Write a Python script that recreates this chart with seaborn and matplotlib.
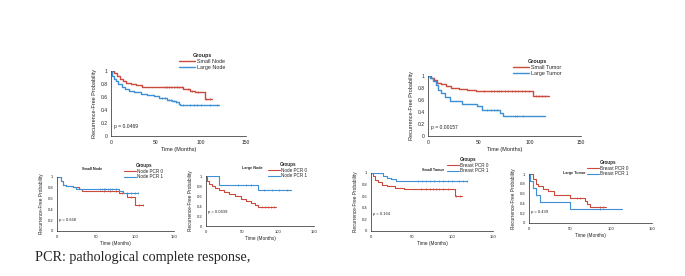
import numpy as np
import matplotlib
matplotlib.use("Agg")
import matplotlib.pyplot as plt
from matplotlib.lines import Line2D
import seaborn as sns

# --- figure geometry (pixels of the 685x276 canvas) ---
W, H = 685, 276
RED = "#cc4a3c"
BLUE = "#3d8fd6"

# --- data: step points (time, survival) and censor times ---
# panel 1: node size
SMALL_NODE_T = [0, 3, 7, 10, 13, 17, 22, 28, 34, 80, 88, 93, 104, 112]
SMALL_NODE_S = [1.0, 0.97, 0.93, 0.88, 0.85, 0.82, 0.80, 0.78, 0.75, 0.72, 0.70, 0.68, 0.57, 0.57]
SMALL_NODE_C = [60, 62, 64, 67, 70, 73, 76, 79, 85, 90, 97, 106, 110]
LARGE_NODE_T = [0, 1, 3, 5, 8, 12, 16, 20, 25, 33, 40, 48, 53, 62, 68, 72, 75, 77, 120]
LARGE_NODE_S = [1.0, 0.93, 0.88, 0.84, 0.80, 0.76, 0.73, 0.70, 0.67, 0.65, 0.63, 0.61, 0.58, 0.56, 0.54, 0.52, 0.49, 0.47, 0.47]
LARGE_NODE_C = [57, 60, 64, 67, 70, 72, 80, 88, 92, 95, 100, 110, 118]

# panel 2: tumor size
SMALL_TUMOR_T = [0, 3, 6, 9, 13, 18, 23, 30, 38, 47, 103, 119]
SMALL_TUMOR_S = [1.0, 0.97, 0.93, 0.89, 0.86, 0.83, 0.80, 0.78, 0.76, 0.755, 0.67, 0.67]
SMALL_TUMOR_C = [55, 62, 65, 68, 70, 72, 75, 78, 82, 85, 88, 92, 95, 99, 106, 109, 112, 115]
LARGE_TUMOR_T = [0, 2, 5, 8, 10, 13, 17, 22, 33, 48, 53, 68, 71, 74, 115]
LARGE_TUMOR_S = [1.0, 0.96, 0.92, 0.85, 0.76, 0.71, 0.65, 0.58, 0.53, 0.50, 0.44, 0.43, 0.38, 0.33, 0.33]
LARGE_TUMOR_C = [58, 62, 65, 68, 85, 87, 93]

# panel 3: small node, node PCR
SN_PCR0_T = [0, 5, 8, 12, 20, 28, 32, 80, 90, 100, 110]
SN_PCR0_S = [1.0, 0.92, 0.86, 0.83, 0.81, 0.78, 0.74, 0.71, 0.63, 0.48, 0.48]
SN_PCR0_C = [60, 68, 75, 83, 95, 105, 110]
SN_PCR1_T = [0, 5, 8, 12, 20, 24, 80, 85, 104]
SN_PCR1_S = [1.0, 0.92, 0.86, 0.83, 0.81, 0.78, 0.74, 0.71, 0.71]
SN_PCR1_C = [55, 58, 60, 62, 65, 68, 70, 75, 80, 90, 95, 100, 104]

# panel 4: large node, node PCR
LN_PCR0_T = [0, 1, 4, 8, 12, 18, 25, 32, 40, 48, 55, 63, 68, 72, 97]
LN_PCR0_S = [1.0, 0.90, 0.85, 0.80, 0.76, 0.72, 0.68, 0.64, 0.60, 0.55, 0.51, 0.47, 0.43, 0.39, 0.39]
LN_PCR0_C = [78, 82, 86, 90, 94]
LN_PCR1_T = [0, 18, 72, 118]
LN_PCR1_S = [1.0, 0.83, 0.72, 0.72]
LN_PCR1_C = [45, 55, 62, 80, 92, 102, 112]

# panel 5: small tumor, breast PCR
ST_PCR0_T = [0, 2, 5, 9, 13, 20, 30, 40, 103, 112]
ST_PCR0_S = [1.0, 0.94, 0.88, 0.84, 0.80, 0.77, 0.75, 0.73, 0.60, 0.60]
ST_PCR0_C = [62, 68, 72, 76, 80, 84, 88, 95, 105, 110]
ST_PCR1_T = [0, 15, 20, 25, 31, 118]
ST_PCR1_S = [1.0, 0.95, 0.92, 0.90, 0.86, 0.86]
ST_PCR1_C = [58, 63, 68, 72, 77, 83, 88, 95, 100, 108, 113, 118]

# panel 6: large tumor, breast PCR
LT_PCR0_T = [0, 5, 8, 11, 17, 23, 31, 50, 68, 71, 74, 94]
LT_PCR0_S = [1.0, 0.89, 0.80, 0.75, 0.70, 0.65, 0.58, 0.52, 0.45, 0.38, 0.33, 0.33]
LT_PCR0_C = [58, 62, 86, 90]
LT_PCR1_T = [0, 1, 5, 9, 14, 50, 114]
LT_PCR1_S = [1.0, 0.86, 0.71, 0.57, 0.43, 0.29, 0.29]
LT_PCR1_C = [86]


def fig_xy(x, y):
    return x / W, 1 - y / H


def add_axes(fig, left, top, right, bottom):
    return fig.add_axes([left / W, 1 - bottom / H, (right - left) / W, (bottom - top) / H])


def km_curve(ax, t, s, cens, color, lw):
    sns.lineplot(x=t, y=s, ax=ax, color=color, linewidth=lw, drawstyle="steps-post",
                 estimator=None, sort=False, legend=False)
    s_arr = np.asarray(s)
    idx = np.searchsorted(np.asarray(t), cens, side="right") - 1
    sns.scatterplot(x=cens, y=s_arr[idx], ax=ax, marker="|", color=color,
                    s=3.5, linewidth=0.5, legend=False)


def style_axes(ax, fs, lab_fs):
    ax.set_xlim(0, 150)
    ax.set_ylim(0, 1)
    ax.set_xticks([0, 50, 100, 150])
    ax.set_xticks(np.arange(0, 151, 10), minor=True)
    ax.set_yticks([0, 0.2, 0.4, 0.6, 0.8, 1.0])
    ax.set_yticks(np.arange(0, 1.01, 0.1), minor=True)
    ax.set_yticklabels(["0", "0.2", "0.4", "0.6", "0.8", "1"])
    ax.tick_params(axis="both", which="major", labelsize=fs, length=1.6, width=0.4,
                   pad=1, colors="#222222")
    ax.tick_params(axis="both", which="minor", length=0.9, width=0.3)
    for side in ["top", "right"]:
        ax.spines[side].set_visible(False)
    for side in ["left", "bottom"]:
        ax.spines[side].set_linewidth(0.5)
        ax.spines[side].set_color("#222222")
    ax.set_xlabel("Time (Months)", fontsize=lab_fs, labelpad=2, color="#222222")
    ax.set_ylabel("Recurrence-Free Probability", fontsize=lab_fs, labelpad=2.5, color="#222222")
    ax.grid(False)


def add_legend(fig, ax, labels, x, y, fs, hl, lw):
    handles = [Line2D([], [], color=RED, lw=lw), Line2D([], [], color=BLUE, lw=lw)]
    ax.legend(handles, labels, loc="upper left", bbox_to_anchor=fig_xy(x, y),
              bbox_transform=fig.transFigure, frameon=False, title="Groups",
              fontsize=fs, title_fontproperties={"weight": "bold", "size": fs},
              borderpad=0, borderaxespad=0, handlelength=hl, handletextpad=0.3,
              labelspacing=0.15)


def panel(fig, box, series, labels, p_text, p_y, legend_xy, fs, lab_fs, lw, hl,
          title=None, title_xy=None):
    ax = add_axes(fig, *box)
    for (t, s, c), color in zip(series, [RED, BLUE]):
        km_curve(ax, t, s, c, color, lw)
    style_axes(ax, fs, lab_fs)
    ax.text(3, p_y, p_text, fontsize=fs, va="center", ha="left", color="#222222")
    add_legend(fig, ax, labels, legend_xy[0], legend_xy[1], fs + 0.3, hl, lw)
    if title:
        tx, ty = fig_xy(*title_xy)
        fig.text(tx, ty, title, fontsize=fs - 0.3, weight="bold", ha="center", va="center")
    return ax


def run():
    sns.set_style("white")
    plt.rcParams["font.family"] = ["Liberation Sans", "DejaVu Sans"]

    fig = plt.figure(figsize=(W / 100, H / 100), dpi=100)
    fig.patch.set_facecolor("white")

    # top row
    panel(fig, (111, 71, 246, 136),
          [(SMALL_NODE_T, SMALL_NODE_S, SMALL_NODE_C), (LARGE_NODE_T, LARGE_NODE_S, LARGE_NODE_C)],
          ["Small Node", "Large Node"], "p = 0.0469", 0.14, (179, 53), 3.6, 4.0, 1.0, 3.0)
    panel(fig, (428, 76, 581, 136),
          [(SMALL_TUMOR_T, SMALL_TUMOR_S, SMALL_TUMOR_C), (LARGE_TUMOR_T, LARGE_TUMOR_S, LARGE_TUMOR_C)],
          ["Small Tumor", "Large Tumor"], "p = 0.00157", 0.15, (513, 59), 3.6, 4.0, 1.0, 3.0)

    # bottom row
    panel(fig, (57, 177, 174, 231),
          [(SN_PCR0_T, SN_PCR0_S, SN_PCR0_C), (SN_PCR1_T, SN_PCR1_S, SN_PCR1_C)],
          ["Node PCR 0", "Node PCR 1"], "p = 0.668", 0.2, (124, 163), 3.0, 3.4, 0.8, 2.6,
          title="Small Node", title_xy=(92, 169))
    panel(fig, (206, 176, 314, 226),
          [(LN_PCR0_T, LN_PCR0_S, LN_PCR0_C), (LN_PCR1_T, LN_PCR1_S, LN_PCR1_C)],
          ["Node PCR 0", "Node PCR 1"], "p = 0.0439", 0.28, (268, 162), 3.0, 3.4, 0.8, 2.6,
          title="Large Node", title_xy=(252, 168))
    panel(fig, (371, 173, 493, 231),
          [(ST_PCR0_T, ST_PCR0_S, ST_PCR0_C), (ST_PCR1_T, ST_PCR1_S, ST_PCR1_C)],
          ["Breast PCR 0", "Breast PCR 1"], "p = 0.164", 0.29, (447, 157), 3.0, 3.4, 0.8, 2.6,
          title="Small Tumor", title_xy=(433, 170))
    panel(fig, (529, 174, 652, 223),
          [(LT_PCR0_T, LT_PCR0_S, LT_PCR0_C), (LT_PCR1_T, LT_PCR1_S, LT_PCR1_C)],
          ["Breast PCR 0", "Breast PCR 1"], "p = 0.439", 0.23, (587, 160), 3.0, 3.4, 0.8, 2.6,
          title="Large Tumor", title_xy=(574, 173))

    fx, fy = fig_xy(35, 257)
    fig.text(fx, fy, "PCR: pathological complete response,", fontsize=10.2,
             family=["Liberation Serif", "DejaVu Serif"], ha="left", va="center")

    fig.savefig("out.png", dpi=100, facecolor="white")
    plt.close(fig)


if __name__ == "__main__":
    run()
